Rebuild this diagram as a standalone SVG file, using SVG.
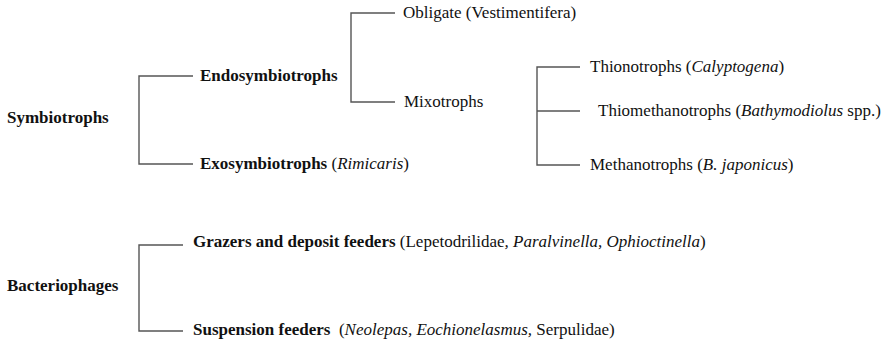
<svg xmlns="http://www.w3.org/2000/svg" width="888" height="343" viewBox="0 0 888 343">
<style>
text{font-family:"Liberation Serif","Times New Roman",serif;font-size:17px;fill:#111}
.b{font-weight:bold}
.i{font-style:italic}
.c{fill:none;stroke:#555;stroke-width:1.4}
</style>
<rect width="888" height="343" fill="#fff"/>
<g id="connectors">
<path class="c" d="M193 76H139V164H193"/>
<path class="c" d="M395 13H351V102H395"/>
<path class="c" d="M580 67H537V165H580M537 111H580"/>
<path class="c" d="M183 245H139V331H183"/>
</g>
<g id="symbiotrophs"><text class="b" x="7" y="123">Symbiotrophs</text></g>
<g id="endosymbiotrophs"><text class="b" x="200" y="81">Endosymbiotrophs</text></g>
<g id="exosymbiotrophs"><text x="200" y="169"><tspan class="b">Exosymbiotrophs</tspan> (<tspan class="i">Rimicaris</tspan>)</text></g>
<g id="obligate"><text x="403" y="18">Obligate (Vestimentifera)</text></g>
<g id="mixotrophs"><text x="404" y="107">Mixotrophs</text></g>
<g id="thionotrophs"><text x="590" y="72">Thionotrophs (<tspan class="i">Calyptogena</tspan>)</text></g>
<g id="thiomethanotrophs"><text x="598" y="116">Thiomethanotrophs (<tspan class="i">Bathymodiolus</tspan> spp.)</text></g>
<g id="methanotrophs"><text x="590" y="170">Methanotrophs (<tspan class="i">B. japonicus</tspan>)</text></g>
<g id="bacteriophages"><text class="b" x="7" y="291">Bacteriophages</text></g>
<g id="grazers"><text x="193" y="247"><tspan class="b">Grazers and deposit feeders</tspan> (Lepetodrilidae<tspan class="i">, Paralvinella, Ophioctinella</tspan>)</text></g>
<g id="suspension"><text x="193" y="335" xml:space="preserve"><tspan class="b">Suspension feeders</tspan>  (<tspan class="i">Neolepas, Eochionelasmus,</tspan> Serpulidae)</text></g>
</svg>
